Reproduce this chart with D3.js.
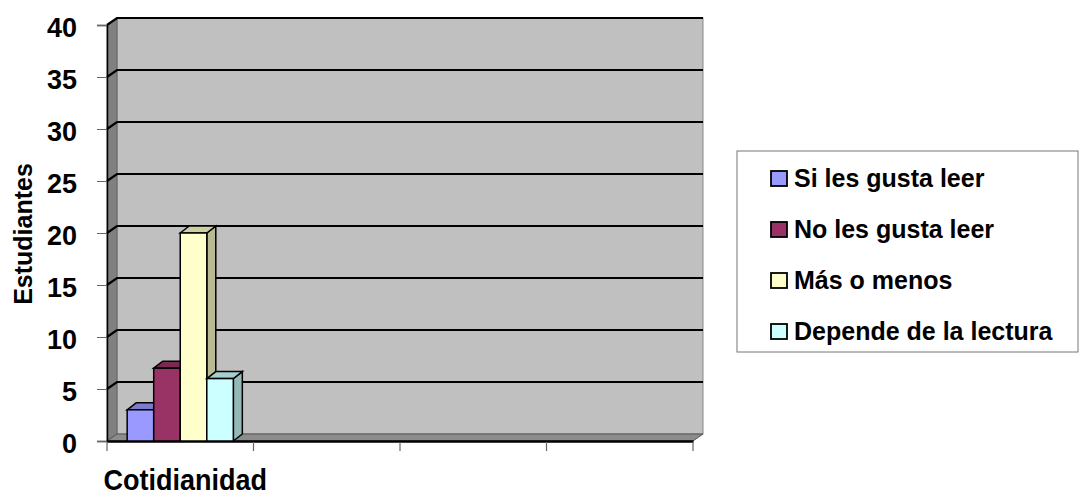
<!DOCTYPE html>
<html>
<head>
<meta charset="utf-8">
<script src="https://cdn.jsdelivr.net/npm/d3@7"></script>
<style>
  body { margin: 0; background: #fff; }
  text { font-family: "Liberation Sans", Arial, sans-serif; font-weight: bold; fill: #000; }
</style>
</head>
<body>
<div id="chart"></div>
<script>
// chart data
const categories = ["Cotidianidad", "", "", ""];
const seriesNames = ["Si les gusta leer", "No les gusta leer", "Más o menos", "Depende de la lectura"];
const seriesValues = [[3], [7], [20], [6]];   // one value per series, first category only
const yTicks = [0, 5, 10, 15, 20, 25, 30, 35, 40];
const colors = ["#9999FF", "#993366", "#FFFFCC", "#CCFFFF"];

const width = 1079, height = 495;
const plot = {left: 107, right: 693, top: 25, bottom: 441};
const depth = {dx: 10, dy: 7};   // 3d offset of the back wall

const svg = d3.select("#chart").append("svg")
  .attr("width", width)
  .attr("height", height);

const y = d3.scaleLinear().domain([0, 40]).range([plot.bottom, plot.top]);
const x0 = d3.scaleBand().domain(d3.range(categories.length)).range([plot.left, plot.right]);
const x1 = d3.scaleBand().domain(d3.range(seriesNames.length)).range([0, x0.bandwidth()]).paddingOuter(0.76);

// back wall
svg.append("rect")
  .attr("x", plot.left + depth.dx).attr("y", plot.top - depth.dy)
  .attr("width", plot.right - plot.left).attr("height", plot.bottom - plot.top)
  .attr("fill", "#C0C0C0").attr("stroke", "#888").attr("stroke-width", 1);

// side wall
svg.append("path")
  .attr("d", `M${plot.left},${plot.top}L${plot.left + depth.dx},${plot.top - depth.dy}L${plot.left + depth.dx},${plot.bottom - depth.dy}L${plot.left},${plot.bottom}Z`)
  .attr("fill", "#808080").attr("stroke", "#666");

// floor
svg.append("path")
  .attr("d", `M${plot.left},${plot.bottom}L${plot.right},${plot.bottom}L${plot.right + depth.dx},${plot.bottom - depth.dy}L${plot.left + depth.dx},${plot.bottom - depth.dy}Z`)
  .attr("fill", "#8c8c8c").attr("stroke", "#555");

// gridlines on side wall + back wall
svg.append("g").selectAll("path")
  .data(yTicks.filter(d => d > 0))
  .join("path")
  .attr("d", d => `M${plot.left},${y(d)}L${plot.left + depth.dx},${y(d) - depth.dy}L${plot.right + depth.dx},${y(d) - depth.dy}`)
  .attr("fill", "none").attr("stroke", "#000").attr("stroke-width", 2.2);

// axes
const yAxis = svg.append("g")
  .attr("transform", `translate(${plot.left},0)`)
  .call(d3.axisLeft(y).tickValues(yTicks).tickSize(10).tickPadding(20));
yAxis.select(".domain").attr("stroke", "#000").attr("stroke-width", 1.5);
yAxis.selectAll(".tick line").attr("stroke", "#666");
yAxis.selectAll("text").attr("font-size", 27).attr("dy", "0.42em");

const xAxis = svg.append("g")
  .attr("transform", `translate(0,${plot.bottom})`)
  .call(d3.axisBottom(x0).tickValues([]).tickSizeOuter(0));
xAxis.select(".domain").attr("stroke", "#000").attr("stroke-width", 2.5);
svg.append("g").selectAll("line")
  .data(d3.range(categories.length + 1))
  .join("line")
  .attr("x1", i => plot.left + i * x0.step()).attr("x2", i => plot.left + i * x0.step())
  .attr("y1", plot.bottom + 1).attr("y2", plot.bottom + 10)
  .attr("stroke", "#666").attr("stroke-width", 1.2);

// category labels, slightly condensed like the original
svg.append("g").selectAll("text")
  .data(categories)
  .join("text")
  .attr("transform", (d, i) => `translate(${x0(i) + x0.bandwidth() / 2 + 5},490) scale(0.9,1)`)
  .attr("text-anchor", "middle")
  .attr("font-size", 30)
  .text(d => d);

svg.append("text")
  .attr("transform", `translate(32,234) rotate(-90)`)
  .attr("text-anchor", "middle")
  .attr("font-size", 25)
  .text("Estudiantes");

// bars (front, top, side)
const bars = [];
seriesNames.forEach((s, si) => {
  seriesValues[si].forEach((v, ci) => bars.push({si, ci, v}));
});

const bw = x1.bandwidth();
const barDx = 9, barDy = 7;
const barG = svg.append("g").selectAll("g").data(bars).join("g");
barG.each(function(d) {
  const g = d3.select(this);
  const xl = x0(d.ci) + x1(d.si), xr = xl + bw;
  const yt = y(d.v), yb = y(0);
  const c = d3.color(colors[d.si]);
  g.append("path")
    .attr("d", `M${xr},${yb}L${xr + barDx},${yb - barDy}L${xr + barDx},${yt - barDy}L${xr},${yt}Z`)
    .attr("fill", c.darker(0.9)).attr("stroke", "#000").attr("stroke-width", 1.5);
  g.append("path")
    .attr("d", `M${xl},${yt}L${xl + barDx},${yt - barDy}L${xr + barDx},${yt - barDy}L${xr},${yt}Z`)
    .attr("fill", c.darker(0.6)).attr("stroke", "#000").attr("stroke-width", 1.5);
  g.append("rect")
    .attr("x", xl).attr("y", yt).attr("width", bw).attr("height", yb - yt)
    .attr("fill", c).attr("stroke", "#000").attr("stroke-width", 1.5);
});

// legend
const legend = svg.append("g").attr("transform", "translate(737,151)");
legend.append("rect")
  .attr("width", 341).attr("height", 201)
  .attr("fill", "#fff").attr("stroke", "#777").attr("stroke-width", 1);
const items = legend.selectAll(".item").data(seriesNames).join("g")
  .attr("class", "item")
  .attr("transform", (d, i) => `translate(34,${27 + i * 51})`);
items.append("rect")
  .attr("x", 0).attr("y", -7).attr("width", 16).attr("height", 15)
  .attr("fill", (d, i) => colors[i]).attr("stroke", "#000").attr("stroke-width", 1.8);
items.append("text")
  .attr("transform", "translate(23,9)")
  .attr("font-size", 25)
  .text(d => d);
</script>
</body>
</html>
